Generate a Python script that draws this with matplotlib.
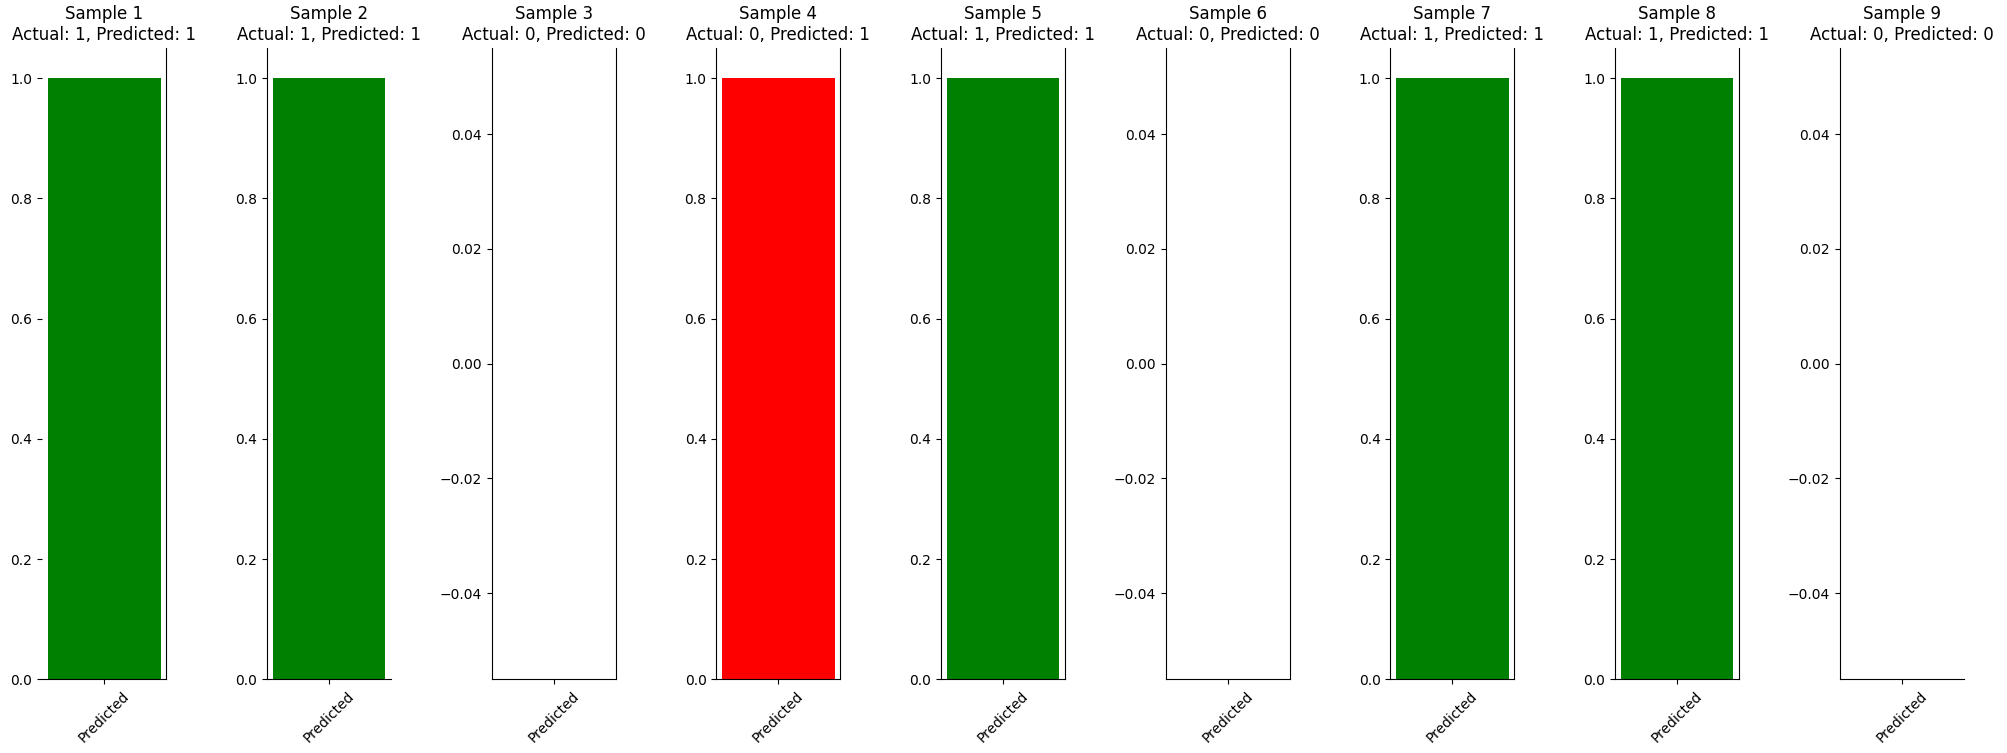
import matplotlib
matplotlib.use("Agg")
import matplotlib.pyplot as plt

# samples shown in the chart
actual = [1, 1, 0, 0, 1, 0, 1, 1, 0]
predicted = [1, 1, 0, 1, 1, 0, 1, 1, 0]
bar_label = ["Predicted"]

# spines that do not show up in the reference picture
hidden = {0: ['left'], 1: ['right'], 8: ['right']}

fig, axes = plt.subplots(1, len(actual), figsize=(20.08, 7.53), dpi=100)
fig.subplots_adjust(left=0.021, right=0.978, top=0.936, bottom=0.098, wspace=0.81)

for i, ax in enumerate(axes):
    a = actual[i]
    p = predicted[i]
    col = 'green' if a == p else 'red'
    ax.bar(bar_label, [p], color=col)
    ax.set_title("Sample %d\nActual: %d, Predicted: %d" % (i + 1, a, p))
    ax.spines['top'].set_visible(False)
    for s in hidden.get(i, []):
        ax.spines[s].set_visible(False)
    for lab in ax.get_xticklabels():
        lab.set_rotation(45)

plt.savefig("out.png")
